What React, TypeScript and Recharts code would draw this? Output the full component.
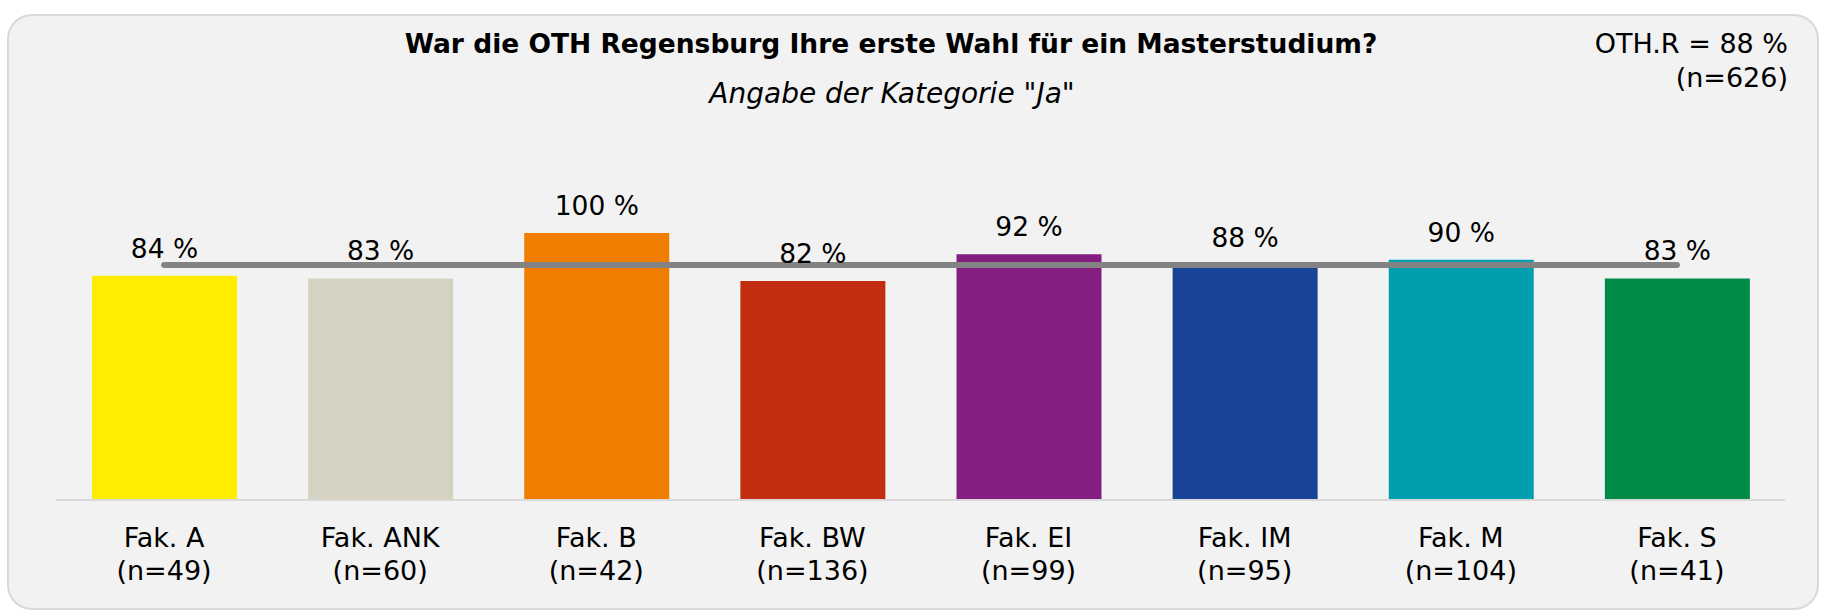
import React from 'react';
import { BarChart, Bar, Cell, XAxis, YAxis, LabelList, ReferenceLine } from 'recharts';

const faculties = ['Fak. A', 'Fak. ANK', 'Fak. B', 'Fak. BW', 'Fak. EI', 'Fak. IM', 'Fak. M', 'Fak. S'];
const yesShare = [84, 83, 100, 82, 92, 88, 90, 83];
const sampleSizes = [49, 60, 42, 136, 99, 95, 104, 41];
const barColors = ['#ffed00', '#d5d2c1', '#f07d00', '#c12d0e', '#841f81', '#184397', '#009eaf', '#008c48'];
const overallShare = 88;
const overallN = 626;

const FONT = "'DejaVu Sans', sans-serif";

const data = faculties.map((name, i) => ({ name, value: yesShare[i], n: sampleSizes[i] }));

function FacultyTick({ x, y, payload }: any) {
  const i = faculties.indexOf(payload.value);
  return (
    <g>
      <text x={x} y={y + 47} textAnchor="middle" fontSize={27} fill="#000" fontFamily={FONT}>
        {payload.value}
      </text>
      <text x={x} y={y + 80} textAnchor="middle" fontSize={27} fill="#000" fontFamily={FONT}>
        (n={sampleSizes[i]})
      </text>
    </g>
  );
}

export default function App() {
  return (
    <div style={{ position: 'relative', width: 1826, height: 611, background: '#fff' }}>
      <style>{'body{margin:0}'}</style>
      <svg width={1826} height={611} style={{ position: 'absolute', left: 0, top: 0 }}>
        <rect x={8} y={15} width={1810} height={594} rx={24} ry={24} fill="#f2f2f2" stroke="#d9d9d9" strokeWidth={2} />
        <text x={891} y={53} textAnchor="middle" fontSize={26.5} fontWeight="bold" fill="#000" fontFamily={FONT}>
          War die OTH Regensburg Ihre erste Wahl für ein Masterstudium?
        </text>
        <text x={892} y={103} textAnchor="middle" fontSize={28} fontStyle="italic" fill="#000" fontFamily={FONT}>
          Angabe der Kategorie "Ja"
        </text>
        <text x={1788} y={53} textAnchor="end" fontSize={27} fill="#000" fontFamily={FONT}>
          OTH.R = {overallShare} %
        </text>
        <text x={1788} y={87} textAnchor="end" fontSize={27} fill="#000" fontFamily={FONT}>
          (n={overallN})
        </text>
      </svg>
      <div style={{ position: 'absolute', left: 0, top: 0 }}>
        <BarChart width={1826} height={611} data={data} margin={{ top: 233, right: 41, left: 56, bottom: 11 }}>
          <XAxis
            dataKey="name"
            height={100}
            tickSize={0}
            tickMargin={0}
            tickLine={false}
            axisLine={{ stroke: '#d9d9d9', strokeWidth: 2 }}
            tick={<FacultyTick />}
            interval={0}
          />
          <YAxis hide domain={[0, 100]} />
          <Bar dataKey="value" barSize={145} isAnimationActive={false}>
            {data.map((d, i) => (
              <Cell key={d.name} fill={barColors[i]} />
            ))}
            <LabelList
              dataKey="value"
              position="top"
              offset={18}
              formatter={(v: any) => `${v} %`}
              style={{ fontSize: 26.5, fill: '#000', fontFamily: FONT }}
            />
          </Bar>
          <ReferenceLine
            segment={[
              { x: faculties[0], y: overallShare },
              { x: faculties[faculties.length - 1], y: overallShare },
            ]}
            stroke="#838383"
            strokeWidth={6}
            strokeLinecap="round"
          />
        </BarChart>
      </div>
    </div>
  );
}
